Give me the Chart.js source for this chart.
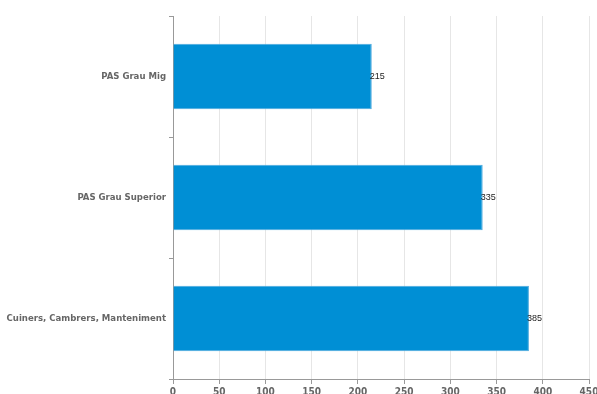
<!DOCTYPE html>
<html>
<head>
<meta charset="utf-8">
<script src="https://cdn.jsdelivr.net/npm/chart.js@4/dist/chart.umd.min.js"></script>
<style>
  html, body { margin: 0; padding: 0; background: #fff; overflow: hidden; }
  #wrap { width: 597px; height: 394px; position: relative; }
</style>
</head>
<body>
<div id="wrap"><canvas id="chart"></canvas></div>
<script>
const categories = ["PAS Grau Mig", "PAS Grau Superior", "Cuiners, Cambrers, Manteniment"];
const values = [215, 335, 385];
const xMax = 450;
const xStep = 50;

// draw the value at the end of each bar
const valueLabels = {
    id: "valueLabels",
    afterDatasetsDraw(chart) {
        const ctx = chart.ctx;
        const meta = chart.getDatasetMeta(0);
        ctx.save();
        ctx.font = "9px 'Liberation Sans', Arial, sans-serif";
        ctx.fillStyle = "#222";
        ctx.textBaseline = "middle";
        ctx.textAlign = "left";
        meta.data.forEach(function(bar, i) {
            ctx.fillText(String(values[i]), bar.x - 2, bar.y);
        });
        ctx.restore();
    }
};

Chart.defaults.font.family = "'DejaVu Sans Condensed', 'Liberation Sans Narrow', sans-serif";
Chart.defaults.color = "#666";

new Chart(document.getElementById("chart").getContext("2d"), {
    type: "bar",
    data: {
        labels: categories,
        datasets: [{
            data: values,
            backgroundColor: "#008fd5",
            borderColor: "#4aa8dd",
            borderWidth: 1,
            barPercentage: 0.54,
            categoryPercentage: 1.0
        }]
    },
    options: {
        indexAxis: "y",
        responsive: true,
        maintainAspectRatio: false,
        animation: false,
        layout: { padding: { top: 16, right: 8, left: 0, bottom: 0 } },
        scales: {
            x: {
                min: 0,
                max: xMax,
                ticks: { stepSize: xStep, padding: 2, font: { size: 10, weight: "bold" }, color: "#666" },
                grid: { color: "#e6e6e6", tickLength: 5, tickColor: "#999" },
                border: { color: "#999", width: 1 },
                afterFit: function(scale) {
                    scale.height = 15;
                    scale.paddingRight = 0;
                    scale.paddingLeft = 0;
                }
            },
            y: {
                ticks: { font: { size: 9.5, weight: "bold" }, color: "#666", padding: 3 },
                grid: { drawOnChartArea: false, offset: true, tickLength: 4, tickColor: "#999" },
                border: { color: "#999", width: 1 },
                afterFit: function(scale) { scale.width = 173; }
            }
        },
        plugins: {
            legend: { display: false },
            tooltip: { enabled: false }
        }
    },
    plugins: [valueLabels]
});
</script>
</body>
</html>
